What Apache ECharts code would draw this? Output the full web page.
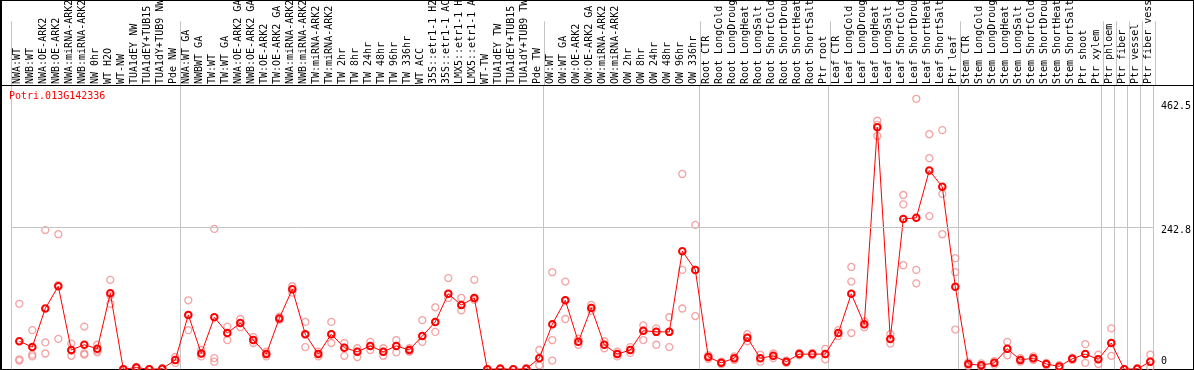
<!DOCTYPE html>
<html><head><meta charset="utf-8">
<script src="https://cdn.jsdelivr.net/npm/echarts@6/dist/echarts.min.js"></script>
<style>html,body{margin:0;padding:0;background:#fff}#c{width:1194px;height:370px}</style>
</head><body><div id="c"></div>
<script>
const geneName = 'Potri.013G142336';
const categories = [
 'NWA:WT','NWB:WT','NWA:OE-ARK2','NWB:OE-ARK2','NWA:miRNA-ARK2','NWB:miRNA-ARK2','NW 0hr','WT H2O','WT-NW','TUA1dEY NW','TUA1dEY+TUB15','TUA1dY+TUB9 NW','Pde NW',
 'NWA:WT GA','NWBWT GA','TW:WT','TW:WT GA','NWA:OE-ARK2 GA','NWB:OE-ARK2 GA','TW:OE-ARK2','TW:OE-ARK2 GA','NWA:miRNA-ARK2','NWB:miRNA-ARK2','TW:miRNA-ARK2','TW:miRNA-ARK2','TW 2hr','TW 8hr','TW 24hr','TW 48hr','TW 96hr','TW 336hr','WT ACC','35S::etr1-1 H2O','35S::etr1-1 ACC','LMX5::etr1-1 H2O','LMX5::etr1-1 ACC','WT-TW','TUA1dEY TW','TUA1dEY+TUB15','TUA1dY+TUB9 TW','Pde TW',
 'OW:WT','OW:WT GA','OW:OE-ARK2','OW:OE-ARK2 GA','OW:miRNA-ARK2','OW:miRNA-ARK2','OW 2hr','OW 8hr','OW 24hr','OW 48hr','OW 96hr','OW 336hr',
 'Root CTR','Root LongCold','Root LongDrought','Root LongHeat','Root LongSalt','Root ShortCold','Root ShortDrought','Root ShortHeat','Root ShortSalt','Ptr root',
 'Leaf CTR','Leaf LongCold','Leaf LongDrought','Leaf LongHeat','Leaf LongSalt','Leaf ShortCold','Leaf ShortDrought','Leaf ShortHeat','Leaf ShortSalt','Ptr leaf',
 'Stem CTR','Stem LongCold','Stem LongDrought','Stem LongHeat','Stem LongSalt','Stem ShortCold','Stem ShortDrought','Stem ShortHeat','Stem ShortSalt','Ptr shoot','Ptr xylem',
 'Ptr phloem','Ptr fiber','Ptr vessel','Ptr fiber vessel'
];
const groupStarts = [0, 13, 41, 53, 63, 73, 84, 85, 86, 87];
const yTickValues = [0, 242.8, 462.5];
const yTickLabels = ['0', '242.8', '462.5'];
const means = [48,38,104,142,33,42,35,130,0,3,0,1,16,
 93,27,89,62,79,50,26,87,137,60,26,60,37,30,40,30,40,33,57,81,129,110,122,0,1,0,1,19,
 77,118,47,105,42,26,33,66,64,64,202,170,
 21,11,19,54,19,23,13,26,26,26,
 62,129,77,414,52,257,259,340,312,141,
 9,7,11,35,16,19,9,5,18,26,17,45,0,1,13];
const rep1 = [112,67,238,231,44,73,42,153,0,4,0,2,21,
 118,33,240,73,86,55,30,90,142,81,30,81,45,36,47,36,50,36,84,106,156,122,153,0,2,0,2,33,
 166,150,52,110,48,30,38,75,70,89,334,247,
 24,13,22,60,25,27,15,28,28,35,
 67,175,82,425,60,298,462.5,402,409,190,
 12,10,14,47,19,22,11,7,20,43,25,70,0,2,25];
const rep2 = [17,25,46,144,32,27,32,126,0,2,0,1,16,
 93,27,19,62,79,50,26,87,137,60,26,60,37,30,40,30,40,33,57,81,129,110,122,0,1,0,1,19,
 50,118,47,105,42,26,33,66,64,64,170,170,
 21,11,19,54,19,23,13,26,26,26,
 62,150,77,418,52,282,170,361,300,166,
 9,7,11,35,16,19,9,5,18,26,17,45,0,1,13];
const rep3 = [15,22,27,52,23,25,29,112,0,1,0,0,11,
 67,22,13,50,72,45,22,84,131,38,22,45,23,21,33,23,29,30,47,64,122,101,119,0,0,0,0,7,
 15,86,42,100,36,22,28,50,42,38,104,91,
 18,9,16,48,13,19,11,24,24,17,
 57,62,72,399,44,178,147,262,231,68,
 6,4,8,24,13,16,7,3,16,11,9,23,0,0,3];

const FONT = '"DejaVu Sans Mono", monospace';
const yMax = 484.4;
const splitFn = function (idx) { return groupStarts.indexOf(idx) >= 0; };
const repData = [];
[rep1, rep2, rep3].forEach(function (arr) {
  arr.forEach(function (v, i) { repData.push([i, v]); });
});

const chart = echarts.init(document.getElementById('c'), null, {renderer: 'canvas'});
chart.setOption({
  animation: false,
  backgroundColor: '#ffffff',
  title: {text: geneName, left: 9, top: 91, padding: 0,
    textStyle: {fontFamily: FONT, fontSize: 10, fontWeight: 'normal', color: '#ff0000'}},
  grid: [
    {left: 11.3, right: 38.7, top: 0, height: 85},
    {left: 11.3, right: 38.7, top: 86, bottom: 0.7},
    {left: 12.8, right: 37.2, top: 86, bottom: 0.7}
  ],
  xAxis: [
    {gridIndex: 0, type: 'category', data: categories, position: 'bottom',
      axisLine: {show: false}, axisTick: {show: false},
      axisLabel: {inside: true, rotate: 90, margin: 1, interval: 0, fontFamily: FONT, fontSize: 10, color: '#000'},
      splitLine: {show: true, interval: splitFn, lineStyle: {color: '#c4c4c4', width: 1}}},
    {gridIndex: 1, type: 'category', data: categories,
      axisLine: {show: false}, axisTick: {show: false}, axisLabel: {show: false},
      splitLine: {show: true, interval: splitFn, lineStyle: {color: '#c4c4c4', width: 1}}},
    {gridIndex: 2, type: 'category', data: categories, show: false}
  ],
  yAxis: [
    {gridIndex: 0, type: 'value', show: false},
    {gridIndex: 1, type: 'value', min: 0, max: yMax, position: 'right',
      axisLine: {show: false}, axisTick: {show: false}, splitLine: {show: false},
      axisLabel: {customValues: yTickValues, margin: 8, fontFamily: FONT, fontSize: 10, color: '#000',
        formatter: function (v) {
          const k = yTickValues.indexOf(v);
          const key = ['b', 'm', 't'][k < 0 ? 0 : k];
          return '{' + key + '|' + (k < 0 ? v : yTickLabels[k]) + '}';
        },
        rich: {
          b: {fontFamily: FONT, fontSize: 10, color: '#000', padding: [0, 0, 15, 0]},
          m: {fontFamily: FONT, fontSize: 10, color: '#000', padding: [7, 0, 0, 0]},
          t: {fontFamily: FONT, fontSize: 10, color: '#000', padding: [16, 0, 0, 0]}
        }}},
    {gridIndex: 2, type: 'value', min: 0, max: yMax, show: false}
  ],
  series: [
    {type: 'line', xAxisIndex: 1, yAxisIndex: 1, data: [], silent: true,
      markLine: {silent: true, symbol: 'none', label: {show: false},
        lineStyle: {color: '#c4c4c4', type: 'solid', width: 1},
        data: [{yAxis: yTickValues[1]}]}},
    {type: 'scatter', xAxisIndex: 2, yAxisIndex: 2, data: repData, silent: true,
      symbol: 'circle', symbolSize: 7,
      itemStyle: {color: 'rgba(255,255,255,0)', borderColor: '#f08c8c', borderWidth: 1.3}},
    {type: 'line', xAxisIndex: 2, yAxisIndex: 2, data: means, silent: true,
      symbol: 'circle', symbolSize: 6.5, showAllSymbol: true, clip: false,
      lineStyle: {color: '#ff0000', width: 1},
      itemStyle: {color: 'rgba(255,255,255,0)', borderColor: '#ff0000', borderWidth: 2}}
  ],
  graphic: [
    {type: 'rect', shape: {x: 0, y: 0, width: 2, height: 370}, style: {fill: '#000'}, silent: true},
    {type: 'rect', shape: {x: 0, y: 0, width: 1194, height: 1}, style: {fill: '#000'}, silent: true},
    {type: 'rect', shape: {x: 1193, y: 0, width: 1, height: 370}, style: {fill: '#000'}, silent: true},
    {type: 'rect', shape: {x: 0, y: 369, width: 1194, height: 1}, style: {fill: '#000'}, silent: true},
    {type: 'rect', shape: {x: 0, y: 85, width: 1194, height: 1}, style: {fill: '#000'}, silent: true}
  ]
});
</script></body></html>
